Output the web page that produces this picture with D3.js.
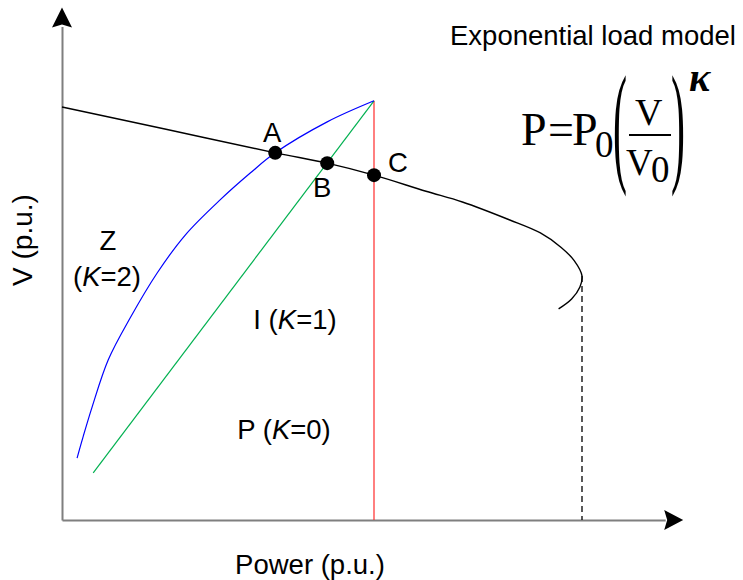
<!DOCTYPE html>
<html>
<head>
<meta charset="utf-8">
<script src="https://cdn.jsdelivr.net/npm/d3@7"></script>
<style>
  html, body { margin: 0; padding: 0; background: #fff; }
  svg { display: block; }
  .sans { font-family: "Liberation Sans", Arial, Helvetica, sans-serif; fill: #000; }
  .serif { font-family: "Liberation Serif", "Times New Roman", Times, serif; fill: #000; }
</style>
</head>
<body>
<svg id="chart" width="743" height="580"></svg>
<script>
// P-V (nose) curve of the network, power and voltage in p.u.
const pvPower   = [0, 0.20, 0.41, 0.51, 0.60, 0.70, 0.77, 0.86, 0.92, 0.96, 0.985, 1.0, 0.996, 0.98, 0.955];
const pvVoltage = [1.0, 0.946, 0.889, 0.864, 0.835, 0.796, 0.770, 0.727, 0.695, 0.660, 0.628, 0.591, 0.564, 0.535, 0.511];

// Load characteristics through the nominal point (P0, V0)
const zPower   = [0.029, 0.040, 0.058, 0.089, 0.131, 0.183, 0.237, 0.304, 0.362, 0.410, 0.510, 0.600];
const zVoltage = [0.150, 0.199, 0.274, 0.388, 0.489, 0.598, 0.690, 0.775, 0.840, 0.889, 0.964, 1.015];
const iPower   = [0.060, 0.600];
const iVoltage = [0.114, 1.015];
const pPower   = [0.600, 0.600];
const pVoltage = [0.0, 1.015];

// Operating points where each load meets the P-V curve
const opNames   = ["A", "B", "C"];
const opPower   = [0.410, 0.510, 0.600];
const opVoltage = [0.889, 0.864, 0.835];

// Maximum loadability point
const noseP = 1.0;
const noseV = 0.591;

// Axis extents
const axisMaxP = 1.16;
const axisMaxV = 1.195;

const svg = d3.select("#chart");

const x = d3.scaleLinear().domain([0, 1]).range([62, 582]);
const y = d3.scaleLinear().domain([0, 1]).range([520, 107]);

const zip = (a, b) => a.map((v, i) => [v, b[i]]);
const line = d3.line().x(d => x(d[0])).y(d => y(d[1]));

// Axes (no ticks), ending in arrow heads
const axisColor = "#7f7f7f";
const xAxisScale = d3.scaleLinear().domain([0, axisMaxP]).range([x(0), x(axisMaxP)]);
const yAxisScale = d3.scaleLinear().domain([0, axisMaxV]).range([y(0), y(axisMaxV)]);
svg.append("g").attr("transform", `translate(0,${y(0)})`)
  .call(d3.axisBottom(xAxisScale).tickValues([]).tickSizeOuter(0))
  .call(g => g.select(".domain").attr("stroke", axisColor).attr("stroke-width", 2));
svg.append("g").attr("transform", `translate(${x(0)},0)`)
  .call(d3.axisLeft(yAxisScale).tickValues([]).tickSizeOuter(0))
  .call(g => g.select(".domain").attr("stroke", axisColor).attr("stroke-width", 2));

// arrow heads
const xe = x(axisMaxP), ye = y(axisMaxV);
svg.append("path")
  .attr("d", `M${xe + 18},${y(0)} L${xe - 1},${y(0) - 10} L${xe + 2},${y(0)} L${xe - 1},${y(0) + 10} Z`)
  .attr("fill", "#000");
svg.append("path")
  .attr("d", `M${x(0)},${ye - 19} L${x(0) - 10},${ye + 1} L${x(0)},${ye - 2} L${x(0) + 10},${ye + 1} Z`)
  .attr("fill", "#000");

// dashed drop line from the nose to the power axis
svg.append("path")
  .attr("d", line([[noseP, noseV], [noseP, 0]]))
  .attr("stroke", "#000").attr("stroke-width", 1.3)
  .attr("stroke-dasharray", "6,4").attr("fill", "none");

// load characteristics
svg.append("path").attr("d", line(zip(pPower, pVoltage)))
  .attr("stroke", "#ff2a2a").attr("stroke-width", 1.2).attr("fill", "none");
svg.append("path").attr("d", line(zip(iPower, iVoltage)))
  .attr("stroke", "#00b050").attr("stroke-width", 1.2).attr("fill", "none");
svg.append("path").attr("d", line.curve(d3.curveCatmullRom.alpha(0.5))(zip(zPower, zVoltage)))
  .attr("stroke", "#0000ff").attr("stroke-width", 1.2).attr("fill", "none");

// P-V curve
svg.append("path").attr("d", line.curve(d3.curveCatmullRom.alpha(0.5))(zip(pvPower, pvVoltage)))
  .attr("stroke", "#000").attr("stroke-width", 1.4).attr("fill", "none");

// operating points
svg.selectAll("circle.op").data(opNames).enter().append("circle")
  .attr("class", "op")
  .attr("cx", (d, i) => x(opPower[i]))
  .attr("cy", (d, i) => y(opVoltage[i]))
  .attr("r", 7).attr("fill", "#000");

// text helper for sans labels, with italic parts
function label(parts, px, py, size, anchor) {
  const t = svg.append("text").attr("class", "sans")
    .attr("x", px).attr("y", py)
    .attr("font-size", size).attr("text-anchor", anchor || "middle");
  parts.forEach(p => {
    const s = t.append("tspan").text(p.t !== undefined ? p.t : p);
    if (p.i) s.attr("font-style", "italic");
  });
  return t;
}

const FS = 27.5;
const opOffsets = [[-3, -11], [-5, 34], [24, -3]];
opNames.forEach((n, i) => {
  label([n], x(opPower[i]) + opOffsets[i][0], y(opVoltage[i]) + opOffsets[i][1], FS);
});

label(["Z"], 108, 250, FS);
label(["(", { t: "K", i: true }, "=2)"], 107, 286, FS);
label(["I (", { t: "K", i: true }, "=1)"], 295, 329, FS);
label(["P (", { t: "K", i: true }, "=0)"], 284, 439, FS);
label(["Power (p.u.)"], 310, 574, FS);
label(["Exponential load model"], 450, 45, FS, "start");

svg.append("text").attr("class", "sans")
  .attr("transform", "translate(32,240) rotate(-90)")
  .attr("font-size", 28).attr("text-anchor", "middle")
  .text("V (p.u.)");

// formula P = P0 (V/V0)^κ
const f = svg.append("g").attr("class", "serif");
f.append("text").attr("x", 521).attr("y", 145).attr("font-size", 46).text("P");
f.append("text").attr("x", 548).attr("y", 145).attr("font-size", 46).text("=");
f.append("text").attr("x", 572).attr("y", 145).attr("font-size", 46).text("P");
f.append("text").attr("x", 595).attr("y", 157).attr("font-size", 37).text("0");
f.append("text").attr("transform", "translate(613,168) scale(1.05,3.35)").attr("font-size", 40).text("(");
f.append("text").attr("x", 635).attr("y", 125).attr("font-size", 38).text("V");
f.append("line").attr("x1", 629).attr("x2", 671).attr("y1", 135).attr("y2", 135)
  .attr("stroke", "#000").attr("stroke-width", 2);
f.append("text").attr("x", 626).attr("y", 175).attr("font-size", 37).text("V");
f.append("text").attr("x", 651).attr("y", 182).attr("font-size", 37).text("0");
f.append("text").attr("transform", "translate(671,168) scale(1.05,3.35)").attr("font-size", 40).text(")");
f.append("text").attr("x", 689).attr("y", 91).attr("font-size", 40)
  .attr("font-style", "italic").attr("font-weight", "bold").text("κ");
</script>
</body>
</html>
